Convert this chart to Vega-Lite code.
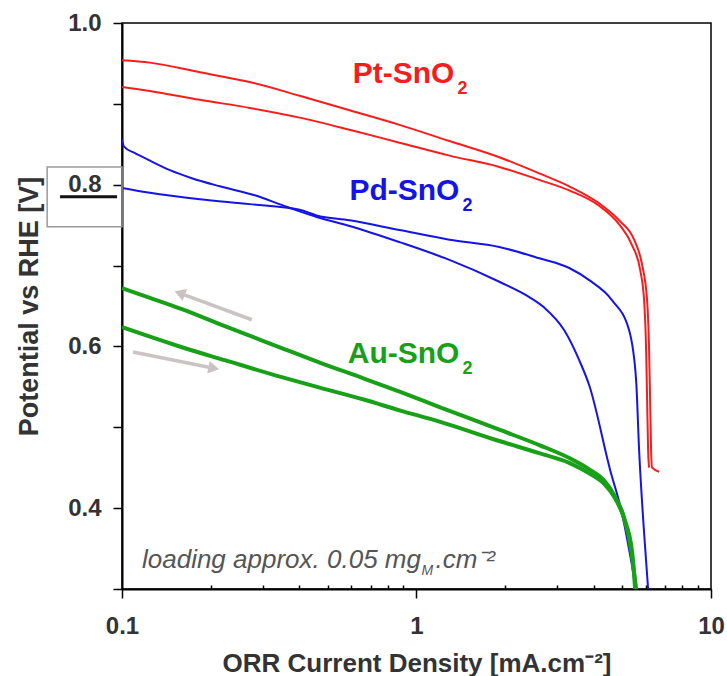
{
  "$schema": "https://vega.github.io/schema/vega-lite/v6.json",
  "width": 589,
  "height": 566,
  "autosize": {"type": "none"},
  "padding": {"left": 122, "top": 23, "right": 16, "bottom": 87},
  "background": "white",
  "config": {
    "font": "Liberation Sans",
    "view": {"stroke": "#000", "strokeWidth": 1.5},
    "axis": {
      "grid": false,
      "domainColor": "#000",
      "domainWidth": 2,
      "tickColor": "#000",
      "tickWidth": 1.5,
      "labelFont": "Liberation Sans",
      "labelFontSize": 24,
      "labelFontWeight": "bold",
      "labelColor": "#333",
      "labelOverlap": false,
      "labelFlush": false,
      "titleFont": "Liberation Sans",
      "titleFontSize": 26,
      "titleFontWeight": "bold",
      "titleColor": "#333"
    }
  },
  "datasets": {
    "curves": [
      {"metal": "Pt", "scan": "a", "j": 0.1, "v": 0.954},
      {"metal": "Pt", "scan": "a", "j": 0.1244, "v": 0.951},
      {"metal": "Pt", "scan": "a", "j": 0.1838, "v": 0.939},
      {"metal": "Pt", "scan": "a", "j": 0.2716, "v": 0.927},
      {"metal": "Pt", "scan": "a", "j": 0.4012, "v": 0.91},
      {"metal": "Pt", "scan": "a", "j": 0.5929, "v": 0.892},
      {"metal": "Pt", "scan": "a", "j": 0.8759, "v": 0.874},
      {"metal": "Pt", "scan": "a", "j": 1.294, "v": 0.854},
      {"metal": "Pt", "scan": "a", "j": 1.911, "v": 0.834},
      {"metal": "Pt", "scan": "a", "j": 2.612, "v": 0.814},
      {"metal": "Pt", "scan": "a", "j": 3.301, "v": 0.798},
      {"metal": "Pt", "scan": "a", "j": 4.172, "v": 0.777},
      {"metal": "Pt", "scan": "a", "j": 4.876, "v": 0.756},
      {"metal": "Pt", "scan": "a", "j": 5.482, "v": 0.732},
      {"metal": "Pt", "scan": "a", "j": 5.835, "v": 0.701},
      {"metal": "Pt", "scan": "a", "j": 6.068, "v": 0.657},
      {"metal": "Pt", "scan": "a", "j": 6.163, "v": 0.596},
      {"metal": "Pt", "scan": "a", "j": 6.212, "v": 0.534},
      {"metal": "Pt", "scan": "a", "j": 6.26, "v": 0.472},
      {"metal": "Pt", "scan": "a", "j": 6.31, "v": 0.45},
      {"metal": "Pt", "scan": "a", "j": 6.665, "v": 0.445},
      {"metal": "Pt", "scan": "b", "j": 0.1, "v": 0.921},
      {"metal": "Pt", "scan": "b", "j": 0.1244, "v": 0.916},
      {"metal": "Pt", "scan": "b", "j": 0.1838, "v": 0.905},
      {"metal": "Pt", "scan": "b", "j": 0.2716, "v": 0.895},
      {"metal": "Pt", "scan": "b", "j": 0.4012, "v": 0.883},
      {"metal": "Pt", "scan": "b", "j": 0.5929, "v": 0.868},
      {"metal": "Pt", "scan": "b", "j": 0.8759, "v": 0.852},
      {"metal": "Pt", "scan": "b", "j": 1.294, "v": 0.836},
      {"metal": "Pt", "scan": "b", "j": 1.911, "v": 0.822},
      {"metal": "Pt", "scan": "b", "j": 2.612, "v": 0.806},
      {"metal": "Pt", "scan": "b", "j": 3.301, "v": 0.793},
      {"metal": "Pt", "scan": "b", "j": 4.172, "v": 0.774},
      {"metal": "Pt", "scan": "b", "j": 4.876, "v": 0.751},
      {"metal": "Pt", "scan": "b", "j": 5.397, "v": 0.725},
      {"metal": "Pt", "scan": "b", "j": 5.745, "v": 0.695},
      {"metal": "Pt", "scan": "b", "j": 5.928, "v": 0.657},
      {"metal": "Pt", "scan": "b", "j": 6.021, "v": 0.596},
      {"metal": "Pt", "scan": "b", "j": 6.068, "v": 0.534},
      {"metal": "Pt", "scan": "b", "j": 6.116, "v": 0.472},
      {"metal": "Pt", "scan": "b", "j": 6.163, "v": 0.45},
      {"metal": "Pd", "scan": "a", "j": 0.1, "v": 0.856},
      {"metal": "Pd", "scan": "a", "j": 0.1016, "v": 0.847},
      {"metal": "Pd", "scan": "a", "j": 0.1107, "v": 0.839},
      {"metal": "Pd", "scan": "a", "j": 0.1225, "v": 0.831},
      {"metal": "Pd", "scan": "a", "j": 0.1455, "v": 0.818},
      {"metal": "Pd", "scan": "a", "j": 0.1727, "v": 0.808},
      {"metal": "Pd", "scan": "a", "j": 0.2149, "v": 0.798},
      {"metal": "Pd", "scan": "a", "j": 0.2825, "v": 0.787},
      {"metal": "Pd", "scan": "a", "j": 0.3486, "v": 0.775},
      {"metal": "Pd", "scan": "a", "j": 0.4012, "v": 0.767},
      {"metal": "Pd", "scan": "a", "j": 0.4581, "v": 0.76},
      {"metal": "Pd", "scan": "a", "j": 0.5929, "v": 0.749},
      {"metal": "Pd", "scan": "a", "j": 0.8759, "v": 0.729},
      {"metal": "Pd", "scan": "a", "j": 1.294, "v": 0.707},
      {"metal": "Pd", "scan": "a", "j": 1.911, "v": 0.68},
      {"metal": "Pd", "scan": "a", "j": 2.416, "v": 0.661},
      {"metal": "Pd", "scan": "a", "j": 2.716, "v": 0.648},
      {"metal": "Pd", "scan": "a", "j": 3.175, "v": 0.62},
      {"metal": "Pd", "scan": "a", "j": 3.569, "v": 0.583},
      {"metal": "Pd", "scan": "a", "j": 3.859, "v": 0.552},
      {"metal": "Pd", "scan": "a", "j": 4.547, "v": 0.447},
      {"metal": "Pd", "scan": "a", "j": 4.954, "v": 0.398},
      {"metal": "Pd", "scan": "a", "j": 5.569, "v": 0.3},
      {"metal": "Pd", "scan": "b", "j": 0.1, "v": 0.796},
      {"metal": "Pd", "scan": "b", "j": 0.1244, "v": 0.79},
      {"metal": "Pd", "scan": "b", "j": 0.1838, "v": 0.782},
      {"metal": "Pd", "scan": "b", "j": 0.2716, "v": 0.776},
      {"metal": "Pd", "scan": "b", "j": 0.4012, "v": 0.769},
      {"metal": "Pd", "scan": "b", "j": 0.4581, "v": 0.762},
      {"metal": "Pd", "scan": "b", "j": 0.5929, "v": 0.756},
      {"metal": "Pd", "scan": "b", "j": 0.8759, "v": 0.744},
      {"metal": "Pd", "scan": "b", "j": 1.294, "v": 0.732},
      {"metal": "Pd", "scan": "b", "j": 1.911, "v": 0.723},
      {"metal": "Pd", "scan": "b", "j": 2.612, "v": 0.709},
      {"metal": "Pd", "scan": "b", "j": 3.301, "v": 0.697},
      {"metal": "Pd", "scan": "b", "j": 3.859, "v": 0.682},
      {"metal": "Pd", "scan": "b", "j": 4.617, "v": 0.657},
      {"metal": "Pd", "scan": "b", "j": 5.272, "v": 0.62},
      {"metal": "Pd", "scan": "b", "j": 5.569, "v": 0.558},
      {"metal": "Pd", "scan": "b", "j": 5.7, "v": 0.472},
      {"metal": "Pd", "scan": "b", "j": 5.928, "v": 0.369},
      {"metal": "Pd", "scan": "b", "j": 6.116, "v": 0.3},
      {"metal": "Au", "scan": "a", "j": 0.1, "v": 0.672},
      {"metal": "Au", "scan": "a", "j": 0.1244, "v": 0.66},
      {"metal": "Au", "scan": "a", "j": 0.1597, "v": 0.646},
      {"metal": "Au", "scan": "a", "j": 0.2234, "v": 0.625},
      {"metal": "Au", "scan": "a", "j": 0.3486, "v": 0.598},
      {"metal": "Au", "scan": "a", "j": 0.469, "v": 0.58},
      {"metal": "Au", "scan": "a", "j": 0.6665, "v": 0.56},
      {"metal": "Au", "scan": "a", "j": 0.8759, "v": 0.544},
      {"metal": "Au", "scan": "a", "j": 1.197, "v": 0.525},
      {"metal": "Au", "scan": "a", "j": 1.911, "v": 0.497},
      {"metal": "Au", "scan": "a", "j": 2.612, "v": 0.478},
      {"metal": "Au", "scan": "a", "j": 3.301, "v": 0.462},
      {"metal": "Au", "scan": "a", "j": 3.859, "v": 0.448},
      {"metal": "Au", "scan": "a", "j": 4.338, "v": 0.434},
      {"metal": "Au", "scan": "a", "j": 4.69, "v": 0.416},
      {"metal": "Au", "scan": "a", "j": 5.07, "v": 0.388},
      {"metal": "Au", "scan": "a", "j": 5.355, "v": 0.348},
      {"metal": "Au", "scan": "a", "j": 5.569, "v": 0.3},
      {"metal": "Au", "scan": "b", "j": 0.1, "v": 0.624},
      {"metal": "Au", "scan": "b", "j": 0.1244, "v": 0.612},
      {"metal": "Au", "scan": "b", "j": 0.1597, "v": 0.599},
      {"metal": "Au", "scan": "b", "j": 0.2234, "v": 0.583},
      {"metal": "Au", "scan": "b", "j": 0.3486, "v": 0.562},
      {"metal": "Au", "scan": "b", "j": 0.469, "v": 0.549},
      {"metal": "Au", "scan": "b", "j": 0.6665, "v": 0.534},
      {"metal": "Au", "scan": "b", "j": 0.8759, "v": 0.521},
      {"metal": "Au", "scan": "b", "j": 1.197, "v": 0.507},
      {"metal": "Au", "scan": "b", "j": 1.911, "v": 0.483},
      {"metal": "Au", "scan": "b", "j": 2.612, "v": 0.468},
      {"metal": "Au", "scan": "b", "j": 3.301, "v": 0.456},
      {"metal": "Au", "scan": "b", "j": 3.859, "v": 0.443},
      {"metal": "Au", "scan": "b", "j": 4.338, "v": 0.43},
      {"metal": "Au", "scan": "b", "j": 4.69, "v": 0.414},
      {"metal": "Au", "scan": "b", "j": 5.07, "v": 0.387},
      {"metal": "Au", "scan": "b", "j": 5.397, "v": 0.346},
      {"metal": "Au", "scan": "b", "j": 5.525, "v": 0.3}
    ],
    "labels": [
      {"metal": "Pt", "name": "Pt-SnO", "j": 1.345, "v": 0.926},
      {"metal": "Pd", "name": "Pd-SnO", "j": 1.399, "v": 0.781},
      {"metal": "Au", "name": "Au-SnO", "j": 1.399, "v": 0.58}
    ],
    "arrows": [
      {"dir": "back", "j": 0.276, "v": 0.633, "j2": 0.157, "v2": 0.666},
      {"dir": "fwd", "j": 0.109, "v": 0.593, "j2": 0.205, "v2": 0.573}
    ],
    "note": [
      {"part": "main", "text": "loading approx. 0.05 mg", "j": 0.1169, "v": 0.326},
      {"part": "sub", "text": "M", "j": 1.04, "v": 0.317},
      {"part": "tail", "text": ".cm⁻²", "j": 1.16, "v": 0.326}
    ],
    "frame": [
      {"j": 0.0557, "j2": 0.1, "v": 0.822, "v2": 0.748}
    ],
    "underline": [
      {"j": 0.0616, "j2": 0.0962, "v": 0.785}
    ]
  },
  "layer": [
    {
      "data": {"name": "curves"},
      "transform": [{"filter": "datum.metal != 'Au'"}],
      "mark": {"type": "line", "clip": true, "strokeWidth": 2, "interpolate": "monotone"},
      "encoding": {
        "x": {
          "field": "j", "type": "quantitative",
          "scale": {"type": "log", "domain": [0.1, 10], "nice": false},
          "axis": {
            "title": "ORR Current Density [mA.cm⁻²]",
            "values": [0.1, 0.2, 0.3, 0.4, 0.5, 0.6, 0.7, 0.8, 0.9, 1, 2, 3, 4, 5, 6, 7, 8, 9, 10],
            "labelExpr": "datum.value == 0.1 ? '0.1' : datum.value == 1 ? '1' : datum.value == 10 ? '10' : ''",
            "tickSize": {"condition": {"test": "datum.value == 0.1 || datum.value == 1 || datum.value == 10", "value": 9}, "value": -4},
            "labelPadding": 16,
            "titlePadding": 12
          }
        },
        "y": {
          "field": "v", "type": "quantitative",
          "scale": {"domain": [0.3, 1.0], "nice": false, "zero": false},
          "axis": {
            "title": "Potential vs RHE [V]",
            "titleFontSize": 27,
            "values": [0.3, 0.4, 0.5, 0.6, 0.7, 0.8, 0.9, 1.0],
            "labelExpr": "(datum.value == 0.4 || datum.value == 0.6 || datum.value == 0.8 || datum.value == 1) ? format(datum.value, '.1f') : ''",
            "tickSize": 9,
            "labelPadding": 12,
            "titlePadding": 24
          }
        },
        "color": {
          "field": "metal", "type": "nominal",
          "scale": {"domain": ["Pt", "Pd", "Au"], "range": ["#f81c1c", "#1414e6", "#18a018"]},
          "legend": null
        },
        "detail": {"field": "scan"}
      }
    },
    {
      "data": {"name": "curves"},
      "transform": [{"filter": "datum.metal == 'Au'"}],
      "mark": {"type": "line", "clip": true, "strokeWidth": 4, "interpolate": "monotone"},
      "encoding": {
        "x": {"field": "j", "type": "quantitative"},
        "y": {"field": "v", "type": "quantitative"},
        "color": {"field": "metal", "type": "nominal", "legend": null},
        "detail": {"field": "scan"}
      }
    },
    {
      "data": {"name": "arrows"},
      "mark": {"type": "rule", "color": "#cbc3c3", "strokeWidth": 3.5},
      "encoding": {
        "x": {"field": "j", "type": "quantitative"},
        "y": {"field": "v", "type": "quantitative"},
        "x2": {"field": "j2"},
        "y2": {"field": "v2"}
      }
    },
    {
      "data": {"name": "arrows"},
      "transform": [{"filter": "datum.dir == 'back'"}],
      "mark": {"type": "point", "shape": "triangle-right", "filled": true, "color": "#cbc3c3", "size": 160, "angle": 200.6, "opacity": 1},
      "encoding": {
        "x": {"field": "j2", "type": "quantitative"},
        "y": {"field": "v2", "type": "quantitative"}
      }
    },
    {
      "data": {"name": "arrows"},
      "transform": [{"filter": "datum.dir == 'fwd'"}],
      "mark": {"type": "point", "shape": "triangle-right", "filled": true, "color": "#cbc3c3", "size": 160, "angle": 11.4, "opacity": 1},
      "encoding": {
        "x": {"field": "j2", "type": "quantitative"},
        "y": {"field": "v2", "type": "quantitative"}
      }
    },
    {
      "data": {"name": "frame"},
      "mark": {"type": "rect", "clip": false, "fill": null, "fillOpacity": 0, "stroke": "#9a9a9a", "strokeWidth": 1.5},
      "encoding": {
        "x": {"field": "j", "type": "quantitative"},
        "x2": {"field": "j2"},
        "y": {"field": "v", "type": "quantitative"},
        "y2": {"field": "v2"}
      }
    },
    {
      "data": {"name": "underline"},
      "mark": {"type": "rule", "clip": false, "color": "#111", "strokeWidth": 3},
      "encoding": {
        "x": {"field": "j", "type": "quantitative"},
        "x2": {"field": "j2"},
        "y": {"field": "v", "type": "quantitative"}
      }
    },
    {
      "data": {"name": "labels"},
      "mark": {"type": "text", "align": "right", "baseline": "alphabetic", "fontSize": 30, "fontWeight": "bold", "font": "Liberation Sans"},
      "encoding": {
        "x": {"field": "j", "type": "quantitative"},
        "y": {"field": "v", "type": "quantitative"},
        "text": {"field": "name"},
        "color": {"field": "metal", "type": "nominal", "legend": null}
      }
    },
    {
      "data": {"name": "labels"},
      "mark": {"type": "text", "align": "left", "baseline": "alphabetic", "fontSize": 18, "fontWeight": "bold", "font": "Liberation Sans", "dx": 3, "dy": 11},
      "encoding": {
        "x": {"field": "j", "type": "quantitative"},
        "y": {"field": "v", "type": "quantitative"},
        "text": {"value": "2"},
        "color": {"field": "metal", "type": "nominal", "legend": null}
      }
    },
    {
      "data": {"name": "note"},
      "transform": [{"filter": "datum.part != 'sub'"}],
      "mark": {"type": "text", "align": "left", "baseline": "alphabetic", "fontSize": 26, "fontStyle": "italic", "font": "Liberation Sans", "color": "#555"},
      "encoding": {
        "x": {"field": "j", "type": "quantitative"},
        "y": {"field": "v", "type": "quantitative"},
        "text": {"field": "text"}
      }
    },
    {
      "data": {"name": "note"},
      "transform": [{"filter": "datum.part == 'sub'"}],
      "mark": {"type": "text", "align": "left", "baseline": "alphabetic", "fontSize": 14, "fontStyle": "italic", "font": "Liberation Sans", "color": "#555"},
      "encoding": {
        "x": {"field": "j", "type": "quantitative"},
        "y": {"field": "v", "type": "quantitative"},
        "text": {"field": "text"}
      }
    }
  ]
}
